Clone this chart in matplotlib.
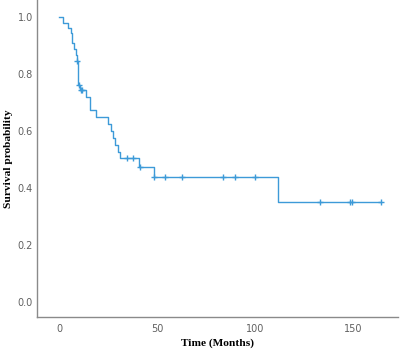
import numpy as np
import matplotlib
matplotlib.use("Agg")
import matplotlib.pyplot as plt

# Kaplan-Meier step curve (time in months, survival after event)
event_times = [0, 2.0, 4.6, 6.0, 6.7, 7.7, 8.7, 9.2, 9.8, 10.5, 13.6, 16.0, 19.1,
               25.0, 26.5, 27.7, 28.8, 30.0, 31.3, 40.6, 48.3, 111.8]
survival = [1.0, 0.981, 0.963, 0.945, 0.908, 0.888, 0.866, 0.847, 0.762, 0.745,
            0.720, 0.674, 0.648, 0.624, 0.600, 0.576, 0.552, 0.528, 0.504,
            0.473, 0.440, 0.352]
# Censored observations (months)
censor_times = [9.4, 10.0, 11.1, 11.8, 34.5, 37.9, 41.2, 48.6, 54.3, 63.0,
                83.7, 89.6, 99.8, 133.0, 148.3, 149.7, 164.2]
end_time = 164.2

x_ticks = [0, 50, 100, 150]
y_ticks = [0.0, 0.2, 0.4, 0.6, 0.8, 1.0]

color = "#3d9ad8"

fig = plt.figure(figsize=(4, 3.5), dpi=100)
ax = fig.add_axes([0.0925, 0.094, 0.9025, 0.906])

t = np.array(event_times + [end_time])
s = np.array(survival + [survival[-1]])
ax.step(t, s, where="post", color=color, lw=1.0)

et = np.array(event_times)
sv = np.array(survival)
cs = [sv[np.searchsorted(et, c, side="right") - 1] for c in censor_times]
ax.plot(censor_times, cs, linestyle="none", marker="+", markersize=5,
        markeredgewidth=1.0, color=color)

ax.set_xlim(-11.2, 173)
ax.set_ylim(-0.053, 1.06)
ax.set_xticks(x_ticks)
ax.set_xticklabels([str(v) for v in x_ticks])
ax.set_yticks(y_ticks)
ax.set_yticklabels([f"{v:.1f}" for v in y_ticks])
ax.tick_params(axis="y", length=0, labelsize=7, colors="#606060", pad=3)
ax.tick_params(axis="x", length=0, labelsize=7, colors="#606060", pad=5)

for side in ["top", "right"]:
    ax.spines[side].set_visible(False)
for side in ["left", "bottom"]:
    ax.spines[side].set_color("#8a8a8a")
    ax.spines[side].set_linewidth(1.0)

ax.set_xlabel("Time (Months)", fontfamily="Liberation Serif", fontweight="bold",
              fontsize=8.2, labelpad=3)
ax.set_ylabel("Survival probability", fontfamily="Liberation Serif", fontweight="bold",
              fontsize=8.2, labelpad=3)

fig.savefig("out.png", dpi=100)
